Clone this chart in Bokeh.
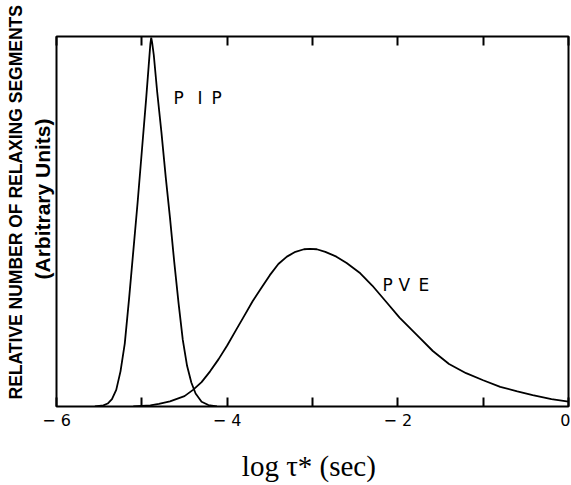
from bokeh.plotting import figure
from bokeh.models import Label, LinearAxis, FixedTicker, Range1d, Title
from bokeh.embed import file_html
from bokeh.resources import INLINE

# ---- data ----
pip_x = [-5.55, -5.45, -5.40, -5.35, -5.30, -5.25, -5.20, -5.15, -5.10, -5.05,
         -5.00, -4.95, -4.92, -4.90, -4.89, -4.88, -4.86, -4.82, -4.77, -4.72,
         -4.67, -4.62, -4.57, -4.52, -4.47, -4.42, -4.37, -4.30, -4.22, -4.12]
pip_y = [0.0, 0.003, 0.008, 0.02, 0.045, 0.095, 0.17, 0.29, 0.42, 0.55,
         0.69, 0.83, 0.92, 0.98, 0.997, 0.985, 0.95, 0.85, 0.74, 0.62,
         0.51, 0.39, 0.28, 0.18, 0.11, 0.065, 0.035, 0.013, 0.004, 0.0]

pve_x = [-5.10, -4.90, -4.80, -4.67, -4.50, -4.40, -4.30, -4.20, -4.10, -4.00,
         -3.90, -3.80, -3.70, -3.60, -3.50, -3.40, -3.30, -3.20, -3.10, -3.03,
         -2.95, -2.85, -2.72, -2.60, -2.44, -2.30, -2.13, -1.98, -1.74, -1.59,
         -1.40, -1.20, -1.00, -0.80, -0.60, -0.42, -0.20, 0.00]
pve_y = [0.0, 0.003, 0.007, 0.014, 0.028, 0.045, 0.066, 0.095, 0.128, 0.165,
         0.205, 0.245, 0.285, 0.32, 0.355, 0.385, 0.405, 0.418, 0.425, 0.426,
         0.425, 0.418, 0.405, 0.388, 0.36, 0.327, 0.281, 0.24, 0.185, 0.150,
         0.115, 0.09, 0.071, 0.053, 0.041, 0.031, 0.02, 0.013]

major_ticks = [-6, -4, -2, 0]
minor_ticks = [-5, -3, -1]
tick_labels = {-6: "\u2212 6", -4: "\u2212 4", -2: "\u2212 2", 0: "0"}

x_title = "log \u03c4*  (sec)"
y_title = "RELATIVE NUMBER OF RELAXING SEGMENTS"
y_subtitle = "(Arbitrary Units)"

p = figure(width=570, height=484, x_range=Range1d(-6, 0), y_range=Range1d(0, 1),
           output_backend="svg", toolbar_location=None, y_axis_location=None,
           min_border_left=56, min_border_right=2, min_border_top=36, min_border_bottom=67)
p.background_fill_color = "white"
p.border_fill_color = "white"
p.grid.visible = False
p.outline_line_color = "black"
p.outline_line_width = 2
p.outline_line_alpha = 1

xa = p.xaxis[0]
xa.ticker = FixedTicker(ticks=major_ticks, minor_ticks=minor_ticks)
xa.major_label_overrides = tick_labels
xa.axis_line_color = None
xa.major_tick_in = 9
xa.major_tick_out = 0
xa.minor_tick_in = 9
xa.minor_tick_out = 0
xa.major_tick_line_width = 2
xa.minor_tick_line_width = 2
xa.major_label_standoff = 4
xa.major_label_text_font = "DejaVu Sans"
xa.major_label_text_font_size = "16px"
xa.major_label_text_color = "black"
xa.axis_label = x_title
xa.axis_label_text_font = "Liberation Serif"
xa.axis_label_text_font_style = "normal"
xa.axis_label_text_font_size = "29px"
xa.axis_label_text_color = "black"
xa.axis_label_standoff = 17

top = LinearAxis(ticker=FixedTicker(ticks=major_ticks, minor_ticks=minor_ticks))
top.axis_line_color = None
top.major_tick_in = 9
top.major_tick_out = 0
top.minor_tick_in = 9
top.minor_tick_out = 0
top.major_tick_line_width = 2
top.minor_tick_line_width = 2
top.major_label_text_font_size = "0px"
top.major_label_text_alpha = 0
p.add_layout(top, "above")

p.line(pip_x, pip_y, line_color="black", line_width=1.8)
p.line(pve_x, pve_y, line_color="black", line_width=1.8)

# curve labels (spaced plotter-style letters)
for i, ch in enumerate("PIP"):
    p.add_layout(Label(x=-4.629, y=0.835, x_offset=[0, 24, 38][i], text=ch,
                       text_font="DejaVu Sans", text_font_size="17px",
                       text_color="black", text_baseline="alphabetic"))
for i, ch in enumerate("PVE"):
    p.add_layout(Label(x=-2.18, y=0.328, x_offset=[0, 16, 36][i], text=ch,
                       text_font="DejaVu Sans", text_font_size="17px",
                       text_color="black", text_baseline="alphabetic"))

# y-axis titles (rotated, on the left panel)
sub = Title(text=y_subtitle, align="left", offset=127, standoff=6,
            text_font="Liberation Sans", text_font_style="bold",
            text_font_size="21px", text_color="black")
main = Title(text=y_title, align="left", offset=7, standoff=0,
             text_font="Liberation Sans", text_font_style="bold",
             text_font_size="17.5px", text_color="black")
p.add_layout(sub, "left")
p.add_layout(main, "left")

open("out.html", "w").write(file_html(p, INLINE))
